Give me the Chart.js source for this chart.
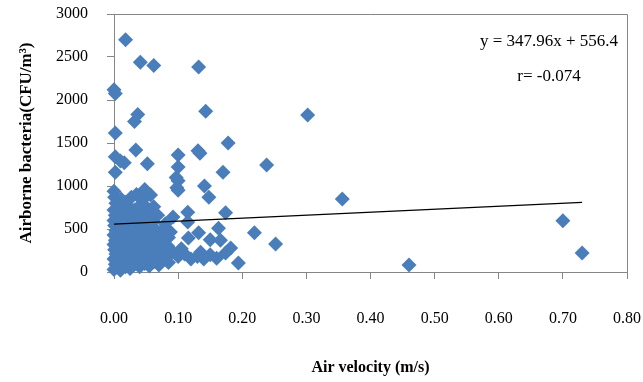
<!DOCTYPE html>
<html>
<head>
<meta charset="utf-8">
<script src="https://cdn.jsdelivr.net/npm/chart.js@4/dist/chart.umd.min.js"></script>
<style>
  html, body { margin: 0; padding: 0; background: #fff; }
</style>
</head>
<body>
<canvas id="chart" width="643" height="382"></canvas>
<script>
// Air velocity (m/s) vs airborne bacteria (CFU/m3)
const velocity = [
  0.018, 0.041, 0.062, 0.132, 0.000, 0.002, 0.037, 0.032, 0.143, 0.302,
  0.002, 0.178, 0.034, 0.131, 0.134, 0.100, 0.002, 0.010, 0.016, 0.052,
  0.238, 0.100, 0.002, 0.170, 0.097, 0.100, 0.141, 0.098, 0.100, 0.148,
  0.356, 0.700, 0.730, 0.460, 0.219, 0.252, 0.194, 0.174, 0.115, 0.092,
  0.088, 0.115, 0.132, 0.116, 0.150, 0.163, 0.166, 0.182, 0.174, 0.160,
  0.150, 0.140, 0.130, 0.120, 0.110, 0.100, 0.090, 0.080, 0.135, 0.105,
  0.000, 0.002, 0.000, 0.003, 0.001, 0.000, 0.002, 0.000, 0.003, 0.001,
  0.000, 0.002, 0.000, 0.003, 0.001, 0.000,
  0.010, 0.009, 0.011, 0.010, 0.008, 0.011, 0.009, 0.010, 0.012, 0.009, 0.011,
  0.018, 0.017, 0.019, 0.018, 0.016, 0.019, 0.018, 0.017, 0.020, 0.018,
  0.025, 0.026, 0.024, 0.025, 0.027, 0.024, 0.026, 0.025, 0.023, 0.027,
  0.032, 0.033, 0.031, 0.032, 0.034, 0.031, 0.033, 0.032, 0.035,
  0.040, 0.041, 0.039, 0.040, 0.042, 0.039, 0.041, 0.040, 0.044, 0.048,
  0.048, 0.047, 0.049, 0.048, 0.050, 0.047, 0.049, 0.046, 0.057,
  0.055, 0.056, 0.054, 0.055, 0.057, 0.054, 0.056, 0.055, 0.062,
  0.062, 0.063, 0.061, 0.062, 0.064, 0.061,
  0.070, 0.071, 0.069, 0.070, 0.072, 0.068,
  0.078, 0.079, 0.077, 0.078, 0.080,
  0.085, 0.086, 0.084, 0.085
];
const bacteria = [
  2700, 2440, 2400, 2385, 2120, 2075, 1830, 1750, 1870, 1825,
  1615, 1500, 1420, 1410, 1380, 1360, 1340, 1290, 1270, 1260,
  1245, 1220, 1160, 1160, 1100, 1060, 1000, 980, 950, 870,
  850, 595, 220, 80, 455, 325, 105, 690, 695, 640,
  465, 580, 455, 395, 375, 510, 370, 280, 220, 160,
  200, 150, 180, 150, 210, 180, 240, 170, 230, 270,
  30, 90, 150, 210, 260, 320, 370, 430, 480, 540,
  600, 660, 720, 800, 870, 940,
  20, 100, 170, 240, 330, 400, 470, 560, 640, 730, 850,
  60, 130, 210, 290, 360, 450, 520, 620, 700, 810,
  40, 150, 230, 320, 410, 500, 580, 680, 760, 870,
  90, 180, 270, 350, 440, 530, 640, 720, 900,
  60, 140, 230, 310, 420, 500, 600, 690, 800, 960,
  100, 190, 280, 380, 470, 560, 650, 850, 895,
  70, 160, 260, 340, 430, 520, 620, 720, 760,
  120, 220, 300, 400, 500, 590,
  80, 180, 270, 380, 460, 660,
  150, 240, 330, 430, 560,
  110, 200, 300, 400
];

// linear trend line end points
const trendVelocity = [0, 0.73];
const trendBacteria = [556.4, 810.4];

const equationText = 'y = 347.96x + 556.4';
const correlationText = 'r= -0.074';

const FONT = '"Liberation Serif", "Times New Roman", serif';
const AXIS_GREY = '#868686';

// box line on top and right, plus the equation text
const frameAndNotes = {
  id: 'frameAndNotes',
  afterDraw(chart) {
    const { ctx, chartArea: a } = chart;
    ctx.save();
    ctx.strokeStyle = AXIS_GREY;
    ctx.lineWidth = 1;
    ctx.beginPath();
    ctx.moveTo(a.left, Math.round(a.top) + 0.5);
    ctx.lineTo(Math.round(a.right) + 0.5, Math.round(a.top) + 0.5);
    ctx.lineTo(Math.round(a.right) + 0.5, a.bottom);
    ctx.stroke();

    ctx.fillStyle = '#000';
    ctx.font = '17px ' + FONT;
    ctx.textAlign = 'center';
    ctx.textBaseline = 'middle';
    ctx.fillText(equationText, 549, 42);
    ctx.fillText(correlationText, 549, 77);
    ctx.restore();
  }
};

new Chart(document.getElementById('chart'), {
  type: 'scatter',
  data: {
    datasets: [
      {
        type: 'line',
        label: 'Trend',
        data: trendVelocity.map((v, i) => ({ x: v, y: trendBacteria[i] })),
        borderColor: '#000',
        borderWidth: 1.3,
        pointRadius: 0,
        fill: false,
        order: 0
      },
      {
        label: 'Airborne bacteria',
        data: velocity.map((v, i) => ({ x: v, y: bacteria[i] })),
        pointStyle: 'rectRot',
        pointRadius: 7.5,
        pointHoverRadius: 7.5,
        backgroundColor: '#4a7ebb',
        borderColor: '#4a7ebb',
        borderWidth: 0,
        clip: false,
        order: 1
      }
    ]
  },
  options: {
    responsive: false,
    animation: false,
    layout: { padding: { left: 0, top: 14, right: 16, bottom: 0 } },
    plugins: { legend: { display: false }, tooltip: { enabled: false } },
    scales: {
      x: {
        type: 'linear',
        min: 0,
        max: 0.8,
        afterFit: s => { s.height = 110; s.paddingLeft = 0; s.paddingRight = 0; },
        ticks: {
          stepSize: 0.1,
          color: '#000',
          padding: 30,
          font: { family: FONT, size: 16 },
          callback: v => v.toFixed(2)
        },
        grid: { drawOnChartArea: false, tickLength: 7, color: AXIS_GREY },
        border: { color: AXIS_GREY, width: 1 },
        title: {
          display: true,
          text: 'Air velocity (m/s)',
          color: '#000',
          font: { family: FONT, size: 16, weight: 'bold' },
          padding: { top: 0, bottom: 5 }
        }
      },
      y: {
        min: 0,
        max: 3000,
        afterFit: s => { s.width = 114; s.paddingTop = 0; s.paddingBottom = 0; },
        ticks: {
          stepSize: 500,
          color: '#000',
          padding: 19,
          font: { family: FONT, size: 16 },
          callback: v => String(v)
        },
        grid: { drawOnChartArea: false, tickLength: 7, color: AXIS_GREY },
        border: { color: AXIS_GREY, width: 1 },
        title: {
          display: true,
          text: 'Airborne bacteria(CFU/m³)',
          color: '#000',
          font: { family: FONT, size: 17, weight: 'bold' },
          padding: { top: 16, bottom: 0 }
        }
      }
    }
  },
  plugins: [frameAndNotes]
});
</script>
</body>
</html>
